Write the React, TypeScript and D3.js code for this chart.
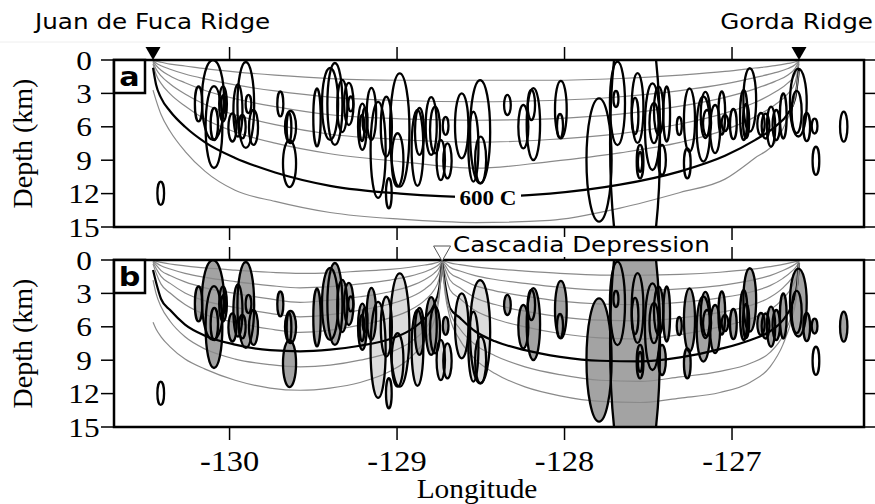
import React from "react";
import * as d3 from "d3";

// ---------- axis / annotation data ----------
const xTickValues = [-130, -129, -128, -127];
const yTickValues = [0, 3, 6, 9, 12, 15];
const ridgeNames = ["Juan de Fuca Ridge", "Gorda Ridge", "Cascadia Depression"];
const ridgeLons = [-130.457, -126.6, -128.731];
const isothermLabel = "600 C";
const isothermLabelLon = -128.457;
const isothermLabelDepth = 12.3;

// ---------- earthquake error ellipses [lon, depth(km), halfWidth(deg), halfHeight(km)] ----------
const darkEvents: number[][] = [
  [-127.579, 7.5, 0.149, 13.8],
  [-127.794, 8.98, 0.075, 5.54],
  [-130.099, 3.59, 0.066, 3.59],
  [-130.093, 6.02, 0.05, 3.68],
  [-130.185, 3.95, 0.022, 1.57],
  [-130.091, 5.75, 0.022, 1.44],
  [-130.039, 3.95, 0.023, 1.57],
  [-130.036, 3.95, 0.013, 0.81],
  [-129.903, 4.04, 0.05, 3.86],
  [-129.95, 4.54, 0.027, 2.34],
  [-129.983, 6.06, 0.024, 1.26],
  [-129.924, 5.99, 0.02, 1.05],
  [-129.887, 3.95, 0.017, 0.81],
  [-129.857, 6.06, 0.027, 1.57],
  [-129.697, 3.95, 0.018, 1.12],
  [-129.636, 6.02, 0.033, 1.44],
  [-129.642, 9.3, 0.039, 2.11],
  [-129.645, 6.06, 0.014, 1.3],
  [-129.478, 5.16, 0.022, 2.6],
  [-129.4, 3.95, 0.048, 3.23],
  [-129.371, 3.95, 0.045, 3.68],
  [-129.327, 4.13, 0.03, 2.34],
  [-129.288, 3.95, 0.028, 1.89],
  [-129.276, 3.95, 0.015, 0.67],
  [-129.207, 5.99, 0.026, 2.07],
  [-129.209, 6.11, 0.014, 1.17],
  [-129.153, 4.85, 0.028, 2.34],
  [-129.191, 5.39, 0.015, 1.08],
  [-128.866, 6.42, 0.027, 2.11],
  [-128.796, 5.93, 0.033, 2.6],
  [-128.773, 6.29, 0.03, 2.09],
  [-128.71, 5.91, 0.017, 0.81],
  [-128.341, 4.04, 0.02, 0.9],
  [-128.246, 5.99, 0.03, 1.95],
  [-128.186, 5.75, 0.04, 3.23],
  [-128.198, 4.04, 0.022, 1.35],
  [-128.022, 4.46, 0.035, 2.58],
  [-128.027, 5.93, 0.018, 1.08],
  [-127.684, 3.89, 0.045, 3.75],
  [-127.693, 3.5, 0.015, 0.72],
  [-127.564, 4.31, 0.035, 3.14],
  [-127.579, 5.03, 0.02, 1.62],
  [-127.549, 9.13, 0.02, 1.5],
  [-127.549, 9.16, 0.013, 0.9],
  [-127.475, 5.99, 0.045, 3.89],
  [-127.466, 5.66, 0.027, 1.8],
  [-127.438, 4.56, 0.028, 2.16],
  [-127.418, 8.98, 0.023, 1.35],
  [-127.39, 4.85, 0.02, 2.47],
  [-127.315, 5.93, 0.015, 0.81],
  [-127.254, 5.39, 0.033, 2.85],
  [-127.267, 9.28, 0.02, 1.35],
  [-127.171, 6.2, 0.04, 2.92],
  [-127.159, 4.94, 0.028, 2.07],
  [-127.149, 5.66, 0.024, 1.17],
  [-127.101, 6.2, 0.03, 2.16],
  [-127.061, 4.76, 0.02, 1.95],
  [-127.042, 5.66, 0.02, 0.72],
  [-126.992, 5.75, 0.02, 1.35],
  [-126.93, 4.94, 0.022, 2.25],
  [-126.894, 3.59, 0.038, 2.85],
  [-126.916, 5.48, 0.018, 1.53],
  [-126.827, 5.75, 0.022, 0.99],
  [-126.8, 5.93, 0.023, 1.12],
  [-126.767, 5.99, 0.025, 1.8],
  [-126.736, 5.84, 0.022, 1.35],
  [-126.694, 5.03, 0.02, 2.02],
  [-126.604, 3.82, 0.05, 3.05],
  [-126.614, 4.67, 0.03, 1.89],
  [-126.554, 6.02, 0.02, 1.26],
  [-126.507, 5.93, 0.017, 0.67],
  [-126.333, 5.99, 0.022, 1.35],
];

const lightEvents: number[][] = [
  [-129.064, 5.99, 0.033, 2.69],
  [-129.113, 8.08, 0.045, 4.31],
  [-129.049, 11.97, 0.017, 1.35],
  [-128.984, 6.29, 0.058, 5.09],
  [-128.997, 8.98, 0.035, 2.4],
  [-128.878, 7.9, 0.035, 3.41],
  [-128.739, 8.98, 0.025, 1.8],
  [-128.699, 9.05, 0.025, 1.57],
  [-128.614, 5.91, 0.04, 2.92],
  [-128.504, 6.44, 0.06, 4.64],
  [-128.544, 7.79, 0.03, 3.14],
  [-128.501, 8.98, 0.033, 2.09],
];

const openEvents: number[][] = [
  [-130.411, 11.97, 0.02, 1.05],
  [-126.499, 9.05, 0.02, 1.26],
];

// ---------- isotherms, panel a (two ridges), 100..700 C ----------
const isoALon = [-130.457, -130.439, -130.409, -130.355, -130.266, -130.146, -129.967, -129.728, -129.4, -128.982,
  -128.528, -128.087, -127.669, -127.31, -127.042, -126.863, -126.743, -126.666, -126.624, -126.6];
const isoADepth: number[][] = [
  [0, 0.11, 0.2, 0.37, 0.54, 0.78, 1.06, 1.36, 1.67, 1.82, 1.82, 1.82, 1.66, 1.35, 1.03, 0.72, 0.51, 0.31, 0.18, 0],
  [0.05, 0.26, 0.51, 0.83, 1.26, 1.7, 2.24, 2.78, 3.33, 3.64, 3.75, 3.64, 3.3, 2.75, 2.15, 1.58, 1.14, 0.77, 0.42, 0.05],
  [0.1, 0.48, 0.92, 1.43, 2.04, 2.74, 3.48, 4.19, 4.92, 5.28, 5.41, 5.28, 4.87, 4.15, 3.35, 2.59, 1.92, 1.34, 0.77, 0.1],
  [0.2, 0.81, 1.43, 2.16, 3.06, 4.0, 4.93, 5.81, 6.67, 7.14, 7.38, 7.14, 6.61, 5.75, 4.77, 3.82, 2.88, 2.06, 1.3, 0.2],
  [0.35, 1.28, 2.1, 3.04, 4.14, 5.33, 6.47, 7.47, 8.42, 9.12, 9.72, 9.12, 8.34, 7.4, 6.28, 5.11, 4.02, 3.02, 2.03, 0.35],
  [0.7, 2.2, 3.4, 4.6, 6.0, 7.4, 8.8, 10.1, 11.3, 12.0, 12.3, 12.0, 11.2, 10.0, 8.6, 7.2, 6.0, 4.8, 3.5, 0.8],
  [2.7, 3.6, 4.9, 6.4, 8.2, 10.0, 11.7, 12.7, 13.7, 14.3, 14.6, 14.4, 13.3, 11.9, 10.7, 8.8, 7.4, 5.2, 3.4, 1.0],
];

// ---------- isotherms, panel b, Juan de Fuca -> Cascadia Depression ----------
const isoB1Lon = [-130.457, -130.439, -130.409, -130.355, -130.266, -130.146, -129.967, -129.758, -129.579, -129.4,
  -129.221, -129.042, -128.922, -128.833, -128.779, -128.749, -128.731];
const isoB1Depth: number[][] = [
  [0, 0.1, 0.21, 0.36, 0.52, 0.71, 0.91, 1.1, 1.2, 1.15, 1.0, 0.85, 0.65, 0.45, 0.3, 0.15, 0],
  [0.05, 0.24, 0.52, 0.81, 1.2, 1.56, 1.94, 2.3, 2.5, 2.4, 2.15, 1.8, 1.45, 1.05, 0.7, 0.38, 0.05],
  [0.1, 0.44, 0.95, 1.4, 1.97, 2.5, 3.0, 3.5, 3.8, 3.6, 3.3, 2.85, 2.35, 1.75, 1.2, 0.7, 0.1],
  [0.2, 0.74, 1.47, 2.1, 2.96, 3.67, 4.26, 4.8, 5.1, 4.9, 4.5, 3.95, 3.35, 2.6, 1.85, 1.1, 0.15],
  [0.35, 1.16, 2.17, 2.97, 4.0, 4.9, 5.6, 6.2, 6.5, 6.3, 5.85, 5.2, 4.5, 3.6, 2.7, 1.7, 0.2],
  [0.9, 2.0, 3.5, 4.5, 5.8, 6.8, 7.6, 8.1, 8.2, 8.05, 7.7, 7.1, 6.3, 5.2, 4.0, 2.6, 0.3],
  [1.8, 3.0, 4.2, 5.5, 6.9, 8.0, 8.9, 9.4, 9.6, 9.45, 9.0, 8.3, 7.4, 6.2, 4.8, 3.0, 0.3],
  [5.6, 6.2, 6.9, 7.8, 8.9, 9.8, 10.8, 11.5, 11.7, 11.5, 11.0, 10.0, 8.8, 7.2, 5.5, 3.4, 0.3],
];

// ---------- isotherms, panel b, Cascadia Depression -> Gorda ----------
const isoB2Lon = [-128.731, -128.713, -128.684, -128.624, -128.534, -128.415, -128.236, -128.027, -127.788, -127.549,
  -127.31, -127.072, -126.893, -126.773, -126.696, -126.642, -126.612, -126.6];
const isoB2Depth: number[][] = [
  [0, 0.11, 0.26, 0.42, 0.61, 0.8, 1.0, 1.2, 1.35, 1.37, 1.3, 1.1, 0.85, 0.6, 0.4, 0.22, 0.1, 0],
  [0.05, 0.26, 0.65, 0.99, 1.41, 1.75, 2.1, 2.45, 2.7, 2.73, 2.6, 2.3, 1.85, 1.4, 0.95, 0.55, 0.25, 0.05],
  [0.1, 0.48, 1.16, 1.66, 2.3, 2.77, 3.25, 3.7, 3.95, 4.0, 3.8, 3.4, 2.9, 2.3, 1.65, 1.0, 0.5, 0.1],
  [0.15, 0.81, 1.8, 2.5, 3.39, 4.0, 4.6, 5.1, 5.4, 5.46, 5.2, 4.7, 4.1, 3.35, 2.5, 1.6, 0.85, 0.15],
  [0.2, 1.28, 2.67, 3.48, 4.54, 5.3, 6.0, 6.6, 7.0, 7.1, 6.7, 6.0, 5.3, 4.5, 3.5, 2.4, 1.3, 0.2],
  [0.3, 2.2, 4.3, 5.2, 6.4, 7.3, 8.1, 8.7, 9.05, 9.1, 8.75, 8.0, 7.2, 6.4, 5.4, 4.0, 2.3, 0.3],
  [0.3, 2.6, 4.6, 6.2, 7.6, 8.6, 9.6, 10.3, 10.8, 10.9, 10.5, 10.0, 9.3, 8.3, 6.8, 4.8, 2.6, 0.3],
  [0.3, 3.0, 5.2, 7.2, 8.9, 10.2, 11.4, 12.2, 12.7, 12.8, 12.4, 11.9, 11.0, 9.6, 7.6, 5.2, 2.9, 0.3],
];
const THICK_INDEX = 5; // 600 C

const SERIF = "'Liberation Serif', 'DejaVu Serif', serif";
const SANS = "'DejaVu Sans', sans-serif";
const SX = 1.12;

type Scale = d3.ScaleLinear<number, number>;

function Panel({ y, letter, filled, sections, clipId, x }: {
  y: Scale; letter: string; filled: boolean;
  sections: { lon: number[]; depth: number[][] }[]; clipId: string; x: Scale;
}) {
  const [x0, x1] = x.range();
  const [y0, y1] = y.range();
  const ell = (e: number[], i: number, fill: string, stroke: boolean) => (
    <ellipse
      key={i}
      cx={x(e[0])}
      cy={y(e[1])}
      rx={x(e[0] + e[2]) - x(e[0])}
      ry={y(e[1] + e[3]) - y(e[1])}
      fill={fill}
      stroke={stroke ? "#000" : "none"}
      strokeWidth={2.3}
    />
  );
  const all = [...darkEvents, ...lightEvents, ...openEvents];
  return (
    <g>
      <g clipPath={`url(#${clipId})`}>
        {filled && (
          <g>
            {lightEvents.map((e, i) => ell(e, i, "#dcdcdc", false))}
            {darkEvents.map((e, i) => ell(e, i, "#a3a3a3", false))}
            {openEvents.map((e, i) => ell(e, i, "#ffffff", false))}
          </g>
        )}
        {sections.map((s, si) =>
          s.depth.map((row, ri) => {
            const line = d3
              .line<number>()
              .x((_, i) => x(s.lon[i]))
              .y((d) => y(d))
              .curve(d3.curveMonotoneX);
            const thick = ri === THICK_INDEX;
            return (
              <path
                key={`${si}-${ri}`}
                d={line(row) || ""}
                fill="none"
                stroke={thick ? "#000" : "#8a8a8a"}
                strokeWidth={thick ? 2.2 : 1.2}
              />
            );
          })
        )}
        {all.map((e, i) => ell(e, i, "none", true))}
      </g>
      <rect x={x0} y={y0} width={x1 - x0} height={y1 - y0} fill="none" stroke="#000" strokeWidth={2.5} />
      <rect x={x0} y={y0} width={31} height={33} fill="#fff" stroke="#000" strokeWidth={2.5} />
      <text
        transform={`translate(${x0 + 15.5},${y0 + 26}) scale(${SX},1)`}
        fontFamily={SANS}
        fontWeight="bold"
        fontSize={27}
        textAnchor="middle"
      >
        {letter}
      </text>
      {yTickValues.map((t) => (
        <g key={`yt${t}`}>
          <line x1={x0 - 13} x2={x0} y1={y(t)} y2={y(t)} stroke="#000" strokeWidth={1.5} />
          <line x1={x1} x2={x1 + 13} y1={y(t)} y2={y(t)} stroke="#000" strokeWidth={1.5} />
          <text
            transform={`translate(84,${y(t) + 9.5}) scale(1.12,1)`}
            fontFamily={SERIF}
            fontSize={28}
            textAnchor="middle"
          >
            {t}
          </text>
        </g>
      ))}
      {xTickValues.map((t) => (
        <g key={`xt${t}`}>
          <line x1={x(t)} x2={x(t)} y1={y0 - 13} y2={y0} stroke="#000" strokeWidth={1.5} />
          <line x1={x(t)} x2={x(t)} y1={y1} y2={y1 + 13} stroke="#000" strokeWidth={1.5} />
        </g>
      ))}
      <text
        transform={`translate(32,${(y0 + y1) / 2}) rotate(-90)`}
        fontFamily={SERIF}
        fontSize={28}
        textAnchor="middle"
      >
        Depth (km)
      </text>
    </g>
  );
}

export default function App() {
  const W = 875;
  const H = 504;
  const x = d3.scaleLinear().domain([-130.69, -126.212]).range([114, 864]);
  const yA = d3.scaleLinear().domain([0, 15]).range([60, 227]);
  const yB = d3.scaleLinear().domain([0, 15]).range([260, 427]);

  const tri = (cx: number, cy: number, w: number, h: number) =>
    `M${cx - w / 2},${cy - h} L${cx + w / 2},${cy - h} L${cx},${cy} Z`;

  const lblX = x(isothermLabelLon);
  const lblY = yA(isothermLabelDepth);

  return (
    <svg width={W} height={H} style={{ position: "absolute", left: 0, top: 0, background: "#fff" }}>
      <defs>
        <clipPath id="clipA">
          <rect x={114} y={yA(0)} width={750} height={yA(15) - yA(0)} />
        </clipPath>
        <clipPath id="clipB">
          <rect x={114} y={yB(0)} width={750} height={yB(15) - yB(0)} />
        </clipPath>
      </defs>
      <rect x={0} y={0} width={W} height={H} fill="#fff" />
      <line x1={0} x2={W} y1={42} y2={42} stroke="#eeeeee" strokeWidth={1} />

      <Panel x={x} y={yA} letter="a" filled={false} clipId="clipA"
        sections={[{ lon: isoALon, depth: isoADepth }]} />
      <Panel x={x} y={yB} letter="b" filled={true} clipId="clipB"
        sections={[{ lon: isoB1Lon, depth: isoB1Depth }, { lon: isoB2Lon, depth: isoB2Depth }]} />

      <rect x={lblX - 33} y={lblY - 6} width={66} height={12} fill="#fff" />
      <text
        transform={`translate(${lblX},${lblY + 8}) scale(1.05,1)`}
        fontFamily={SERIF}
        fontWeight="bold"
        fontSize={22}
        textAnchor="middle"
      >
        {isothermLabel}
      </text>

      <path d={tri(x(ridgeLons[0]), yA(0), 15, 13)} fill="#000" />
      <path d={tri(x(ridgeLons[1]), yA(0), 15, 13)} fill="#000" />
      <rect x={450} y={237} width={279} height={20} fill="#fff" />
      <path d={tri(x(ridgeLons[2]), yB(0) + 1, 17, 15)} fill="#fff" stroke="#555" strokeWidth={1} />

      <text transform={`translate(35,29) scale(${SX},1)`} fontFamily={SANS} fontSize={22}>
        {ridgeNames[0]}
      </text>
      <text transform={`translate(873,29) scale(${SX},1)`} fontFamily={SANS} fontSize={22} textAnchor="end">
        {ridgeNames[1]}
      </text>
      <text transform={`translate(453,252) scale(${SX},1)`} fontFamily={SANS} fontSize={22}>
        {ridgeNames[2]}
      </text>

      {xTickValues.map((t) => (
        <text key={t} transform={`translate(${x(t)},471) scale(1.08,1)`} fontFamily={SERIF} fontSize={30} textAnchor="middle">
          {t}
        </text>
      ))}
      <text transform={`translate(477,498) scale(1.05,1)`} fontFamily={SERIF} fontSize={28} textAnchor="middle">
        Longitude
      </text>
    </svg>
  );
}
